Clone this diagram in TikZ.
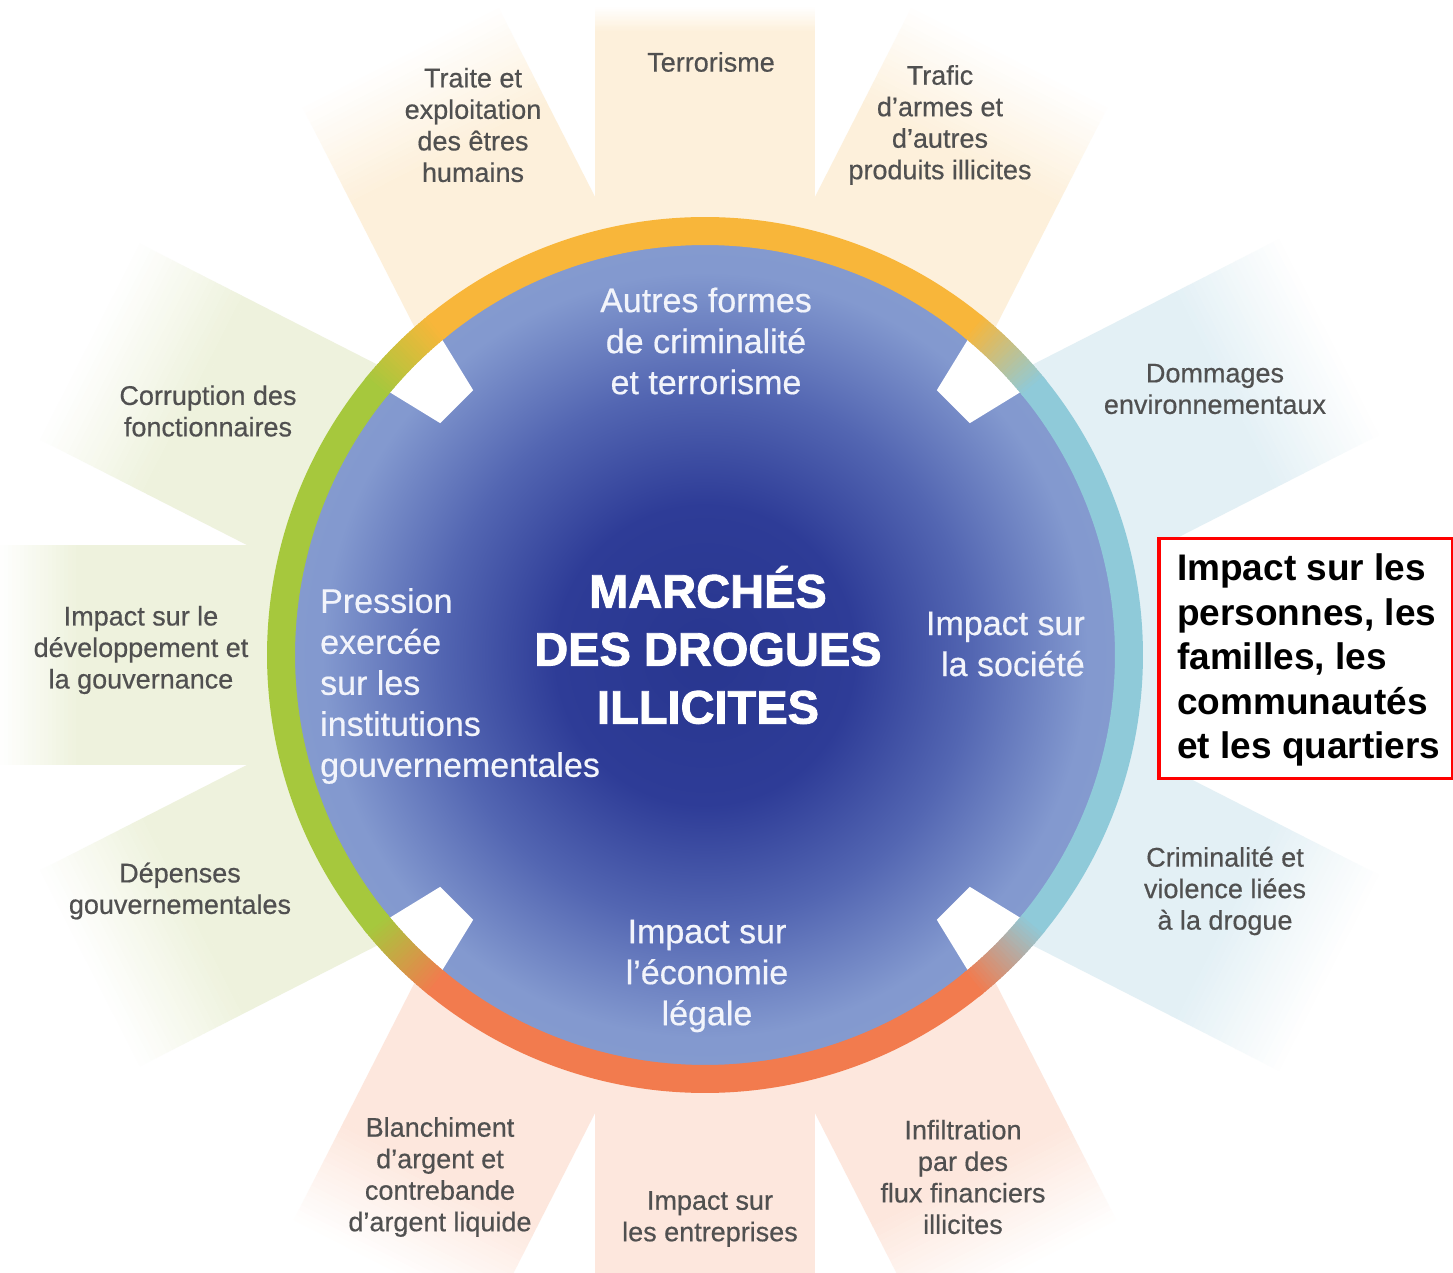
\documentclass[tikz,border=0pt]{standalone}
\usepackage{fontspec}
\setmainfont{Liberation Sans}
\newfontfamily\lblfont[FakeBold=0.5]{Liberation Sans}
\newfontfamily\titlefont[FakeBold=1.8]{Liberation Sans}
\definecolor{bandO}{HTML}{FDF0DB}
\definecolor{bandG}{HTML}{EEF2DD}
\definecolor{bandB}{HTML}{E3F0F5}
\definecolor{bandR}{HTML}{FDE7DD}
\definecolor{ringO}{HTML}{F8B63A}
\definecolor{ringG}{HTML}{A6C83D}
\definecolor{ringB}{HTML}{8FCAD9}
\definecolor{ringR}{HTML}{F27B4E}
\definecolor{diskA}{HTML}{28368F}
\definecolor{diskA2}{HTML}{2E3C97}
\definecolor{diskB}{HTML}{5366B2}
\definecolor{diskC}{HTML}{8399CF}
\definecolor{diskD}{HTML}{8FA6D7}
\definecolor{gtxt}{HTML}{505050}
\definecolor{wtxt}{HTML}{F2F4FB}
\pgfdeclareradialshading{diskshade}{\pgfpoint{0bp}{0bp}}{color(0bp)=(diskA); color(9bp)=(diskA2); color(16bp)=(diskB); color(23bp)=(diskC); color(50bp)=(diskD)}
\newcommand\myband[4]{%
  \begin{scope}[rotate=#1]
    \fill[#4] (0,-110) rectangle ({#2-#3},110);
    \foreach \k in {0,...,19}{%
      \pgfmathtruncatemacro\p{100-\k*5}%
      \fill[#4!\p!white] ({#2-#3+\k*#3/20-0.3},-110) rectangle ({#2-#3+(\k+1)*#3/20},110);
    }
  \end{scope}}
\newcommand\ringtrans[3]{%
  \foreach \k in {0,...,23}{%
    \pgfmathtruncatemacro\p{100-\k*100/23}%
    \pgfmathsetmacro\st{#1+6-\k*0.5}%
    \draw[ringline, color=#2!\p!#3] (\st:424) arc[start angle=\st, end angle={\st-0.8}, radius=424];
  }}
\begin{document}
\begin{tikzpicture}[x=1pt,y=1pt,
  ringline/.style={line width=28pt},
  lbl/.style={font=\lblfont\fontsize{27}{31.5}\selectfont, text=gtxt, align=center, inner sep=0pt},
  wlbl/.style={font=\lblfont\fontsize{34}{41}\selectfont, text=wtxt, inner sep=0pt},
  titlest/.style={font=\titlefont\bfseries\fontsize{47}{58}\selectfont, text=white, align=center, inner sep=0pt},
  boxst/.style={draw=red, line width=3.5pt, fill=white, minimum width=294pt, minimum height=240pt, anchor=north west, inner sep=0pt},
  boxtxt/.style={font=\bfseries\fontsize{37}{44.5}\selectfont, text=black, align=left, anchor=west, inner sep=0pt}]
\useasboundingbox (-705,-618) rectangle (748,655);
\fill[white] (-705,-618) rectangle (748,655);
% rays
\myband{90}{648}{25}{bandO}
\myband{117}{670}{110}{bandO}
\myband{63}{670}{110}{bandO}
\myband{180}{705}{80}{bandG}
\myband{153}{690}{120}{bandG}
\myband{207}{690}{120}{bandG}
\myband{0}{740}{80}{bandB}
\myband{27}{700}{120}{bandB}
\myband{333}{700}{120}{bandB}
\myband{270}{640}{10}{bandR}
\myband{243}{690}{110}{bandR}
\myband{297}{690}{110}{bandR}
% disk
\shade[shading=diskshade] (0,0) circle[radius=416];
% notches
\foreach \a in {45,135,225,315}{
  \fill[white] ({\a-5.4}:421) -- ({\a+5.4}:421) -- ({\a+3.8}:352) -- ({\a-3.8}:352) -- cycle;
}
% ring
\draw[ringline, ringO] (50.5:424) arc[start angle=50.5, end angle=129.5, radius=424];
\draw[ringline, ringG] (140.5:424) arc[start angle=140.5, end angle=219.5, radius=424];
\draw[ringline, ringR] (230.5:424) arc[start angle=230.5, end angle=309.5, radius=424];
\draw[ringline, ringB] (320.5:424) arc[start angle=320.5, end angle=399.5, radius=424];
\ringtrans{45}{ringO}{ringB}
\ringtrans{135}{ringG}{ringO}
\ringtrans{225}{ringR}{ringG}
\ringtrans{315}{ringB}{ringR}
% outer labels
\node[lbl] (traite) at (-232,530) {Traite et\\exploitation\\des êtres\\humains};
\node[lbl] (terror) at (6,593) {Terrorisme};
\node[lbl] (trafic) at (235,530) {Trafic\\d’armes et\\d’autres\\produits illicites};
\node[lbl] (corrupt) at (-497,244) {Corruption des\\fonctionnaires};
\node[lbl] (devel) at (-564,5) {Impact sur le\\développement et\\la gouvernance};
\node[lbl] (depenses) at (-525,-236) {Dépenses\\gouvernementales};
\node[lbl] (dommages) at (510,266) {Dommages\\environnementaux};
\node[lbl] (crime) at (520,-236) {Criminalité et\\violence liées\\à la drogue};
\node[lbl] (blanch) at (-265,-522) {Blanchiment\\d’argent et\\contrebande\\d’argent liquide};
\node[lbl] (entrep) at (5,-564) {Impact sur\\les entreprises};
\node[lbl] (infil) at (258,-522) {Infiltration\\par des\\flux financiers\\illicites};
% inner labels
\node[wlbl, align=center] (autres) at (1,314) {Autres formes\\de criminalité\\et terrorisme};
\node[wlbl, align=center] (econ) at (2,-321) {Impact sur\\l’économie\\légale};
\node[wlbl, align=left, anchor=west] (press) at (-385,-31) {Pression\\exercée\\sur les\\institutions\\gouvernementales};
\node[wlbl, align=right, anchor=east] (societe) at (380,11) {Impact sur\\la société};
\node[titlest] (title) at (3,10) {MARCHÉS\\DES DROGUES\\ILLICITES};
% red box
\node[boxst] (box) at (452,118) {};
\node[boxtxt] (boxtext) at (472,-5) {Impact sur les\\personnes, les\\familles, les\\communautés\\et les quartiers};
\end{tikzpicture}
\end{document}
